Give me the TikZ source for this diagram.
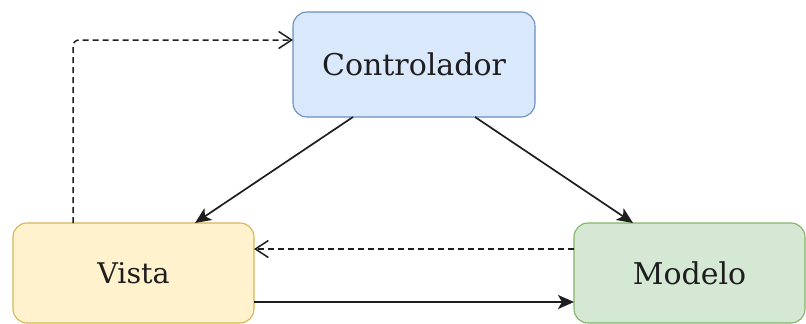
\documentclass[tikz,border=0pt]{standalone}
\usepackage{fontspec}
\setmainfont{DejaVu Serif}
\usetikzlibrary{arrows.meta}
\definecolor{ctrlfill}{HTML}{DAE8FC}
\definecolor{ctrldraw}{HTML}{6C8EBF}
\definecolor{vistafill}{HTML}{FFF2CC}
\definecolor{vistadraw}{HTML}{D6B656}
\definecolor{modfill}{HTML}{D5E8D4}
\definecolor{moddraw}{HTML}{82B366}
\definecolor{ink}{HTML}{1E1E1E}
\tikzset{
  box/.style={rounded corners=14pt, line width=1.1pt, inner sep=0pt, outer sep=0pt,
    minimum height=100pt, text=ink},
  flow/.style={draw=ink, line width=1.7pt, -{Stealth[length=16pt,width=14pt,inset=4pt]}},
  notify/.style={draw=ink, line width=1.5pt, dash pattern=on 6pt off 4pt,
    -{Straight Barb[length=13pt,width=17pt,line width=1.5pt]}},
}
\begin{document}
\begin{tikzpicture}[x=1pt,y=-1pt]
\useasboundingbox (0,0) rectangle (806,324);

% the three parts of the pattern
\node[box, fill=ctrlfill, draw=ctrldraw, minimum width=242pt, minimum height=105pt,
  font=\fontsize{30}{36}\selectfont] (ctrl) at (414,64.5) {Controlador};
\node[box, fill=vistafill, draw=vistadraw, minimum width=241pt,
  font=\fontsize{28.5}{34}\selectfont] (vista) at (133.5,273) {Vista};
\node[box, fill=modfill, draw=moddraw, minimum width=231pt,
  font=\fontsize{30}{36}\selectfont] (modelo) at (689.5,273) {Modelo};

% controller updates view and model
\draw[flow] ([xshift=-61pt]ctrl.south) -- ([xshift=61.5pt]vista.north);
\draw[flow] ([xshift=61pt]ctrl.south) -- ([xshift=-56.5pt]modelo.north);

% view sends user actions to the controller
\draw[notify, rounded corners=6pt] ([xshift=-60.5pt]vista.north) |- ([yshift=24.5pt]ctrl.west);

% model notifies the view; view queries the model
\draw[notify] ([yshift=24pt]modelo.west) -- ([yshift=24pt]vista.east);
\draw[flow] ([yshift=-29pt]vista.east) -- ([yshift=-29pt]modelo.west);
\end{tikzpicture}
\end{document}
